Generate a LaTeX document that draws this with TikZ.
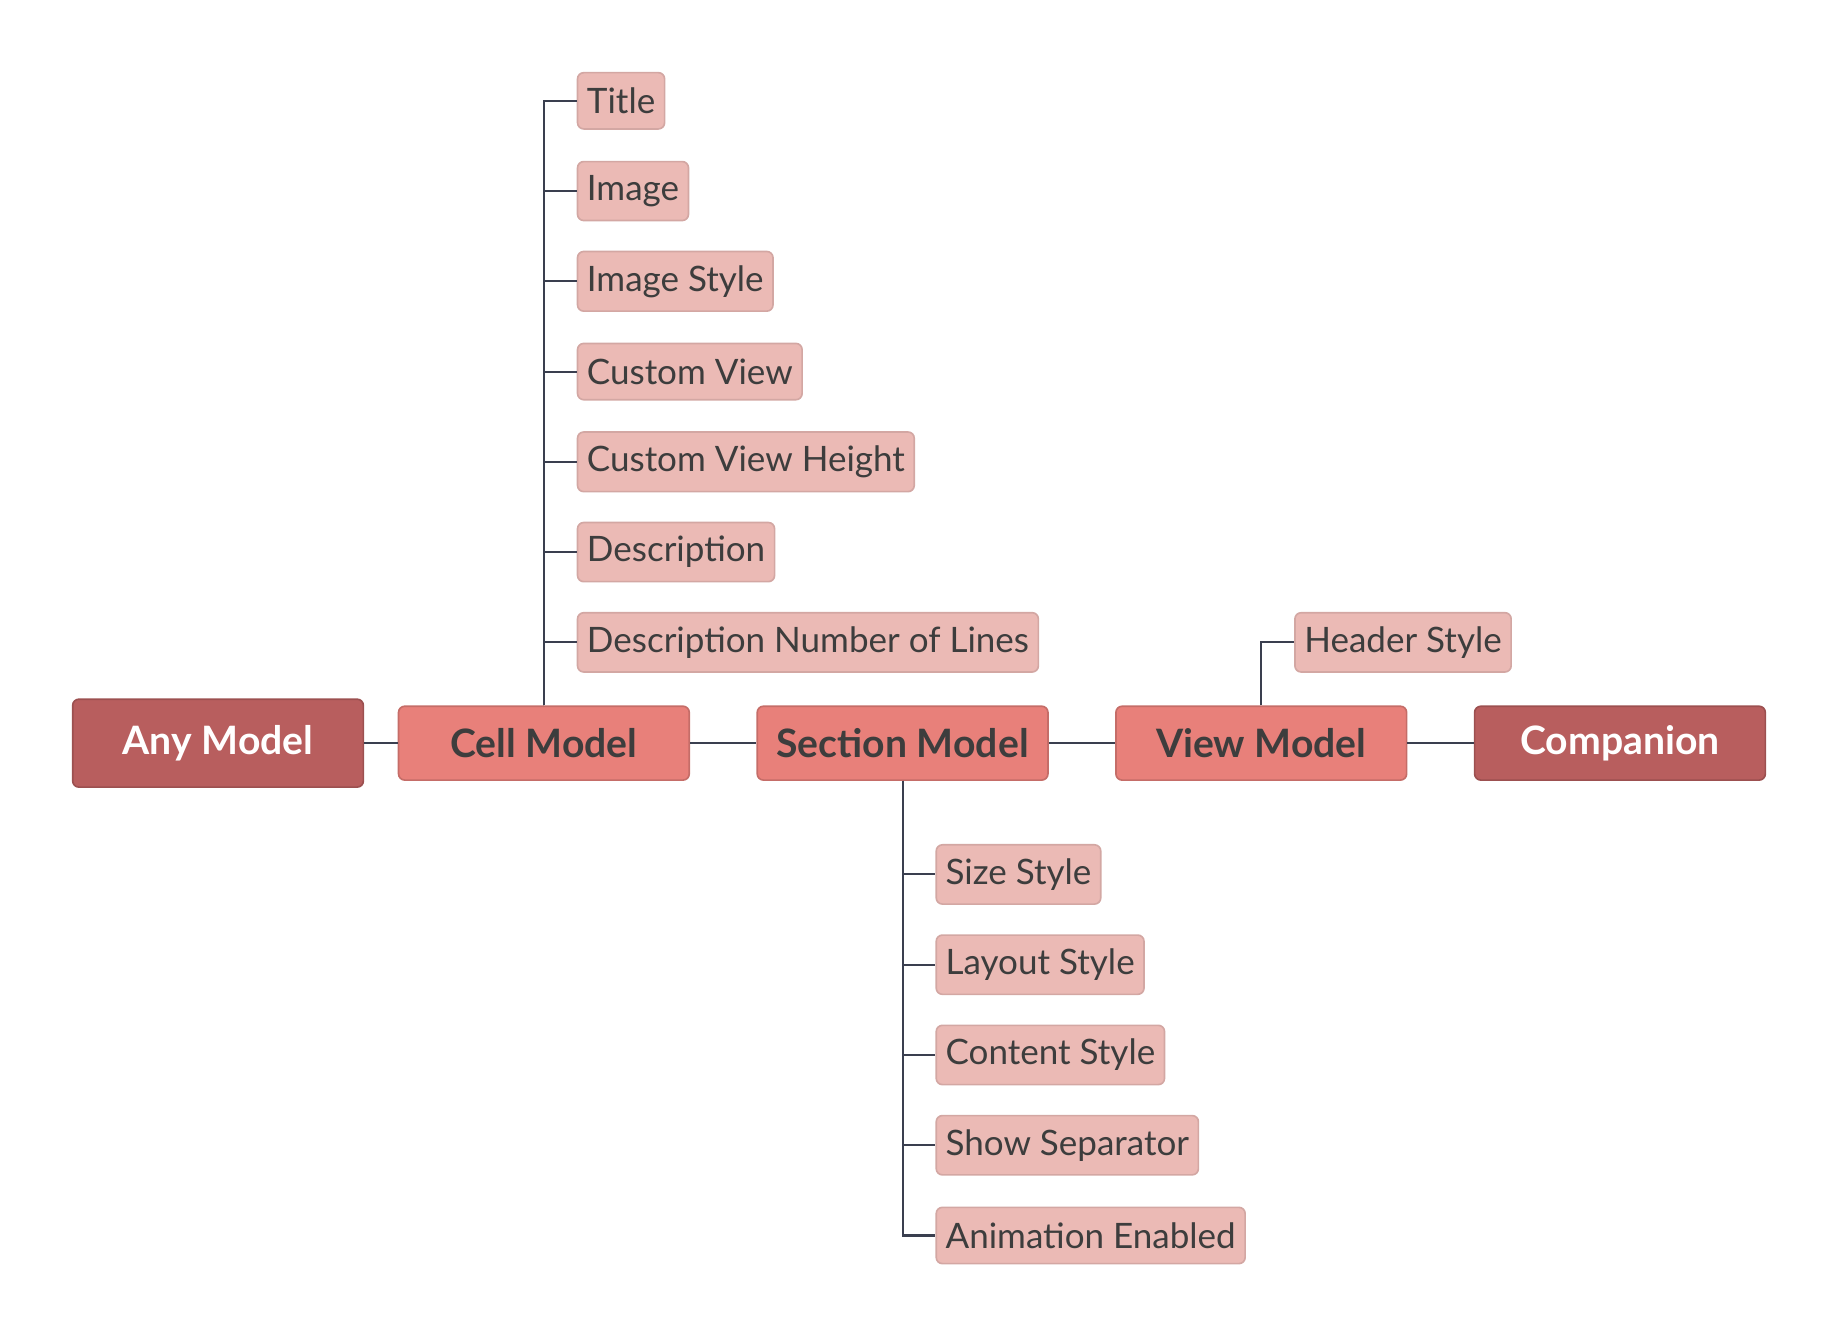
\documentclass[tikz,border=0pt]{standalone}
\usepackage{fontspec}
\setmainfont{Lato}
\usepackage{xcolor}
\definecolor{colorRoot}{HTML}{B85E5E}
\definecolor{colorModel}{HTML}{E8807A}
\definecolor{colorLeaf}{HTML}{EBBAB5}
\definecolor{colorText}{HTML}{3D3D3D}
\definecolor{colorLink}{HTML}{3A3F4F}
\usetikzlibrary{positioning}
\tikzset{
  root/.style={fill=colorRoot, draw=colorRoot!85!black, rounded corners=1.5pt, minimum width=24.8mm, minimum height=7.5mm, text=white, font=\bfseries\fontsize{9.5}{11}\selectfont},
  model/.style={root, fill=colorModel, draw=colorModel!85!black, minimum height=6.3mm, text=colorText},
  leaf/.style={fill=colorLeaf, draw=colorLeaf!90!black, rounded corners=1.5pt, minimum height=4.8mm, inner xsep=0.8mm, anchor=west, text=colorText, font=\fontsize{8.5}{10}\selectfont},
  link/.style={draw=colorLink, line width=0.5pt}
}
\begin{document}
\begin{tikzpicture}[x=0.1mm, y=-0.1mm]
\useasboundingbox (0,0) rectangle (1568,1140);
\node[root] (any) at (186,634) {Any Model};
\node[model] (cell) at (464,634) {Cell Model};
\node[model] (section) at (770,634) {Section Model};
\node[model] (view) at (1076,634) {View Model};
\node[root, minimum height=6.3mm] (companion) at (1382,634) {Companion};
\draw[link] (any) -- (cell);
\draw[link] (cell) -- (section);
\draw[link] (section) -- (view);
\draw[link] (view) -- (companion);
% cell model properties
\node[leaf] (title) at (492,86) {Title};
\node[leaf] (image) at (492,163) {Image};
\node[leaf] (imagestyle) at (492,240) {Image Style};
\node[leaf] (customview) at (492,317) {Custom View};
\node[leaf] (customheight) at (492,394) {Custom View Height};
\node[leaf] (description) at (492,471) {Description};
\node[leaf] (desclines) at (492,548) {Description Number of Lines};
\foreach \leaf in {title, image, imagestyle, customview, customheight, description, desclines}
  \draw[link] (cell.north) |- (\leaf.west);
% view model properties
\node[leaf] (headerstyle) at (1104,548) {Header Style};
\draw[link] (view.north) |- (headerstyle.west);
% section model properties
\node[leaf] (sizestyle) at (798,746) {Size Style};
\node[leaf] (layoutstyle) at (798,823) {Layout Style};
\node[leaf] (contentstyle) at (798,900) {Content Style};
\node[leaf] (separator) at (798,977) {Show Separator};
\node[leaf] (animation) at (798,1054) {Animation Enabled};
\foreach \leaf in {sizestyle, layoutstyle, contentstyle, separator, animation}
  \draw[link] (section.south) |- (\leaf.west);
\end{tikzpicture}
\end{document}
